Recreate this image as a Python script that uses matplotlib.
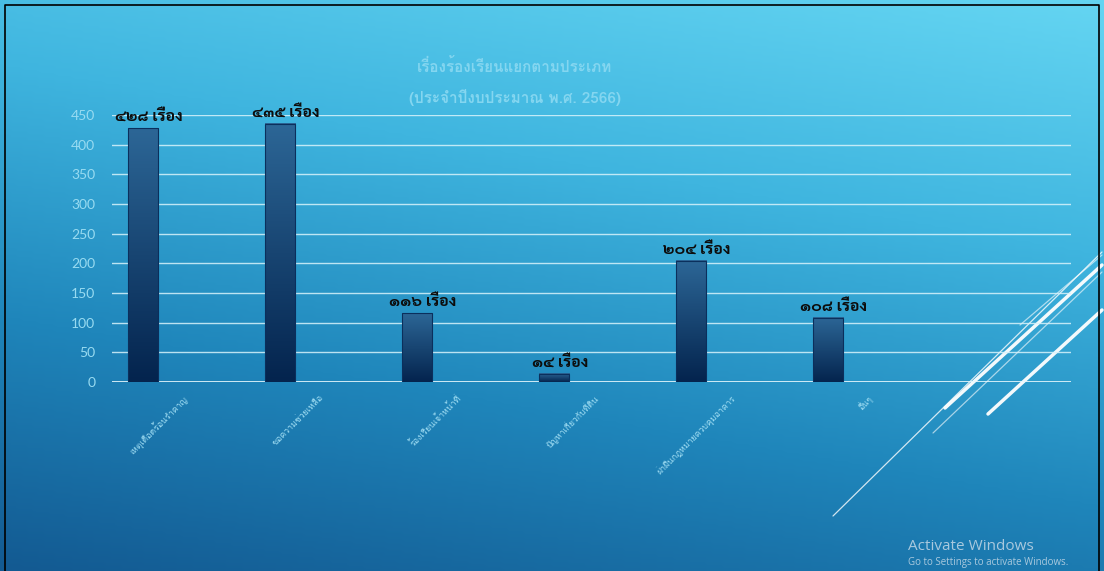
import matplotlib
matplotlib.use('Agg')
import matplotlib.pyplot as plt
import matplotlib.transforms as mtransforms
from matplotlib.colors import LinearSegmentedColormap
import numpy as np

# ฟอนต์ไทย (มีหลายตัวให้เลือก ถ้าไม่มีจะใช้ตัวถัดไป)
label_fonts = ['Sarabun', 'Loma', 'DejaVu Sans']
title_fonts = ['Loma', 'DejaVu Sans']
plt.rcParams['font.family'] = ['Loma', 'DejaVu Sans']

# ข้อมูล
categories = ['เหตุเดือดร้อนรำคาญ', 'ขอความช่วยเหลือ', 'ร้องเรียนเจ้าหน้าที่',
              'ปัญหาเกี่ยวกับที่ดิน', 'ฝ่าฝืนกฎหมายควบคุมอาคาร', 'อื่นๆ']
values = [428, 435, 116, 14, 204, 108]
value_labels = ['๔๒๘ เรื่อง', '๔๓๕ เรื่อง', '๑๑๖ เรื่อง', '๑๔ เรื่อง', '๒๐๔ เรื่อง', '๑๐๘ เรื่อง']
yticks = [0, 50, 100, 150, 200, 250, 300, 350, 400, 450]
title_lines = ['เรื่องร้องเรียนแยกตามประเภท', '(ประจำปีงบประมาณ พ.ศ. 2566)']

W, H = 1104, 571
fig = plt.figure(figsize=(W / 100, H / 100), dpi=100)

# พื้นหลังไล่สี
bg = fig.add_axes([0, 0, 1, 1], zorder=-10)
bg.set_axis_off()
xx, yy = np.meshgrid(np.linspace(0, 1, 200), np.linspace(0, 1, 200))
t = np.clip(0.75 * (1 - yy) + 0.25 * xx, 0, 1)  # yy=0 คือด้านบน
bg_cmap = LinearSegmentedColormap.from_list('bg', ['#135a92', '#1f86bb', '#3fb5df', '#64d5f2'])
bg.imshow(t, cmap=bg_cmap, extent=[0, W, H, 0], aspect='auto', origin='upper')
bg.set_xlim(0, W)
bg.set_ylim(H, 0)

# เส้นตกแต่งมุมขวาล่าง
deco = [((833, 516), (1102, 252), 0.9, 0.8),
        ((933, 433), (1102, 272), 0.9, 0.6),
        ((1020, 325), (1102, 255), 0.9, 0.6),
        ((945, 408), (1102, 265), 2.5, 0.95),
        ((988, 414), (1102, 310), 2.5, 0.95)]
for (x0, y0), (x1, y1), lw, a in deco:
    bg.plot([x0, x1], [y0, y1], color='white', lw=lw, alpha=a, solid_capstyle='round')

# กรอบดำ
bg.plot([5, 5, 1099, 1099], [H + 5, 5, 5, H + 5], color='black', lw=1.2)

# แกนกราฟ
left, right = 112, 1071
bottom, top = 382, 115
ax = fig.add_axes([left / W, 1 - bottom / H, (right - left) / W, (bottom - top) / H])
ax.set_facecolor('none')
x = np.arange(len(categories))
for s in ax.spines.values():
    s.set_visible(False)
ax.set_yticks(yticks)
ax.yaxis.grid(True, color='#d8f3fb', lw=1.0, alpha=0.85)
ax.set_axisbelow(True)
ax.tick_params(axis='y', length=0, labelsize=10, labelcolor='#98dbf1', pad=12)
for tl in ax.get_yticklabels():
    tl.set_family(['Lato', 'DejaVu Sans'])
ax.axhline(0, color='#e6f8fd', lw=1.2, zorder=1)

bar_w = 0.22
bars = ax.bar(x, values, width=bar_w, color='none', edgecolor='#0b2f5c', lw=0.8, zorder=3)
bar_cmap = LinearSegmentedColormap.from_list('bar', ['#04244e', '#2c6696'])
grad = np.linspace(0, 1, 100).reshape(-1, 1)
for b in bars:
    bx, by = b.get_x(), b.get_y()
    ax.imshow(grad, cmap=bar_cmap, origin='lower', aspect='auto',
              extent=[bx, bx + b.get_width(), by, by + b.get_height()], zorder=2)
ax.set_xlim(-0.226, 6.77)
ax.set_ylim(0, 450)

# ป้ายค่าบนแท่ง
for xi, v, lab in zip(x, values, value_labels):
    ax.annotate(lab, (xi, v), xytext=(4, 3), textcoords='offset points',
                ha='center', va='bottom', fontsize=11.5, fontweight='bold',
                color='#0d0d0d', family=label_fonts, annotation_clip=False, zorder=5)

ax.set_xticks(x)
ax.set_xticklabels(categories, rotation=45, ha='right', va='top',
                   rotation_mode='anchor', fontsize=6.3, color='#9edcf2')
ax.tick_params(axis='x', length=0, pad=8)
shift = mtransforms.ScaledTranslation(0.39, 0, fig.dpi_scale_trans)
for tl in ax.get_xticklabels():
    tl.set_transform(tl.get_transform() + shift)

# ชื่อกราฟ
for ty, line in zip([67, 97], title_lines):
    fig.text(515 / W, 1 - ty / H, line, ha='center', va='center', fontsize=11,
             fontweight='bold', color='#84d6f0', family=title_fonts)

# ลายน้ำ
fig.text(908 / W, 1 - 547 / H, 'Activate Windows', fontsize=11, color='#a9c9de',
         va='center', ha='left', family='Open Sans')
fig.text(908 / W, 1 - 563 / H, 'Go to Settings to activate Windows.', fontsize=7,
         color='#a9c9de', va='center', ha='left', family='Open Sans')

fig.savefig('out.png', dpi=100)
